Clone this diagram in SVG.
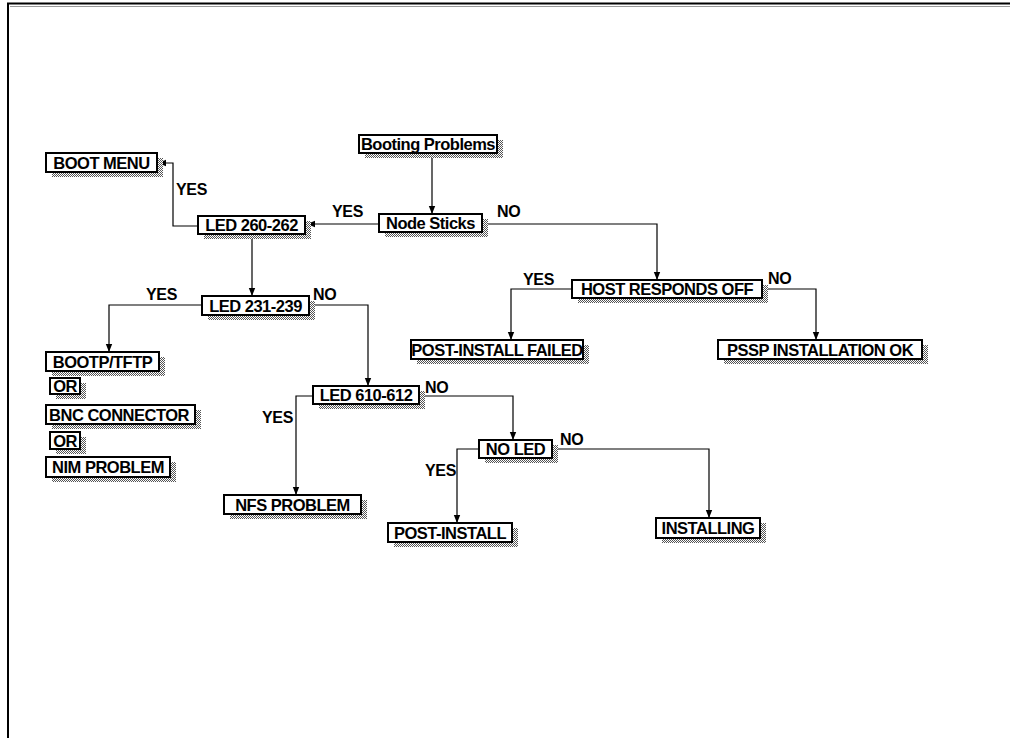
<svg xmlns="http://www.w3.org/2000/svg" width="1010" height="738" viewBox="0 0 1010 738">
  <style>
    .box { fill: #fff; stroke: #000; stroke-width: 2; }
    .sh { fill: url(#dots); }
    .t { font-family: "Liberation Sans", Arial, sans-serif; font-weight: bold; font-size: 16.5px; letter-spacing: -0.5px; fill: #000; text-anchor: middle; }
    .lbl { font-family: "Liberation Sans", Arial, sans-serif; font-weight: bold; font-size: 16px; letter-spacing: -0.3px; fill: #000; }
    .c { fill: none; stroke: #000; stroke-width: 1.2; }
  </style>
  <defs>
    <pattern id="dots" width="2" height="2" patternUnits="userSpaceOnUse">
      <rect width="2" height="2" fill="#fff"/>
      <rect x="0" y="0" width="1" height="1" fill="#555"/>
      <rect x="1" y="1" width="1" height="1" fill="#555"/>
    </pattern>
    <marker id="arr" markerWidth="8" markerHeight="8" refX="8" refY="4" orient="auto" markerUnits="userSpaceOnUse">
      <path d="M0,0.8 L8,4 L0,7.2 z" fill="#000"/>
    </marker>
  </defs>

  <!-- page frame -->
  <g id="frame">
    <line x1="7" y1="3.5" x2="1010" y2="3.5" stroke="#000" stroke-width="2"/>
    <line x1="10" y1="6.5" x2="1010" y2="6.5" stroke="#999" stroke-width="1"/>
    <line x1="8" y1="3" x2="8" y2="738" stroke="#000" stroke-width="2"/>
  </g>

  <!-- connectors -->
  <g id="connectors">
    <path class="c" d="M432,153 V214" marker-end="url(#arr)"/>
    <path class="c" d="M379,224 H307" marker-end="url(#arr)"/>
    <path class="c" d="M482,224 H657 V280" marker-end="url(#arr)"/>
    <path class="c" d="M198,226 H173 V163 H158" marker-end="url(#arr)"/>
    <path class="c" d="M252,234 V296" marker-end="url(#arr)"/>
    <path class="c" d="M202,305 H109 V352" marker-end="url(#arr)"/>
    <path class="c" d="M309,305 H368 V386" marker-end="url(#arr)"/>
    <path class="c" d="M572,289 H511 V340" marker-end="url(#arr)"/>
    <path class="c" d="M762,289 H816 V340" marker-end="url(#arr)"/>
    <path class="c" d="M313,396 H296 V495" marker-end="url(#arr)"/>
    <path class="c" d="M419,396 H513 V440" marker-end="url(#arr)"/>
    <path class="c" d="M479,449 H457 V523" marker-end="url(#arr)"/>
    <path class="c" d="M552,449 H709 V518" marker-end="url(#arr)"/>

    <text class="lbl" x="332" y="217">YES</text>
    <text class="lbl" x="497" y="217">NO</text>
    <text class="lbl" x="176" y="195">YES</text>
    <text class="lbl" x="146" y="300">YES</text>
    <text class="lbl" x="313" y="300">NO</text>
    <text class="lbl" x="523" y="285">YES</text>
    <text class="lbl" x="768" y="284">NO</text>
    <text class="lbl" x="262" y="423">YES</text>
    <text class="lbl" x="425" y="393">NO</text>
    <text class="lbl" x="425" y="476">YES</text>
    <text class="lbl" x="560" y="445">NO</text>
  </g>

  <!-- nodes: shadow, box, label -->
  <g id="booting-problems">
    <rect class="sh" x="365" y="140" width="138" height="18"/>
    <rect class="box" x="359" y="135" width="138" height="18"/>
    <text class="t" x="428" y="150">Booting Problems</text>
  </g>
  <g id="node-sticks">
    <rect class="sh" x="385" y="219" width="103" height="18"/>
    <rect class="box" x="379" y="214" width="103" height="18"/>
    <text class="t" x="430.5" y="229">Node Sticks</text>
  </g>
  <g id="led-260-262">
    <rect class="sh" x="204" y="221" width="107" height="18"/>
    <rect class="box" x="198" y="216" width="107" height="18"/>
    <text class="t" x="251.5" y="231">LED 260-262</text>
  </g>
  <g id="boot-menu">
    <rect class="sh" x="52" y="158" width="111" height="19"/>
    <rect class="box" x="46" y="153" width="111" height="19"/>
    <text class="t" x="101.5" y="168.5">BOOT MENU</text>
  </g>
  <g id="led-231-239">
    <rect class="sh" x="208" y="301" width="107" height="19"/>
    <rect class="box" x="202" y="296" width="107" height="19"/>
    <text class="t" x="255.5" y="311.5">LED 231-239</text>
  </g>
  <g id="host-responds-off">
    <rect class="sh" x="578" y="285" width="190" height="18"/>
    <rect class="box" x="572" y="280" width="190" height="18"/>
    <text class="t" x="667" y="295">HOST RESPONDS OFF</text>
  </g>
  <g id="post-install-failed">
    <rect class="sh" x="417" y="345" width="172" height="19"/>
    <rect class="box" x="411" y="340" width="172" height="19"/>
    <text class="t" x="497" y="355.5">POST-INSTALL FAILED</text>
  </g>
  <g id="pssp-installation-ok">
    <rect class="sh" x="724" y="345" width="204" height="19"/>
    <rect class="box" x="718" y="340" width="204" height="19"/>
    <text class="t" x="820" y="355.5">PSSP INSTALLATION OK</text>
  </g>
  <g id="bootp-tftp">
    <rect class="sh" x="52" y="357" width="113" height="19"/>
    <rect class="box" x="46" y="352" width="113" height="19"/>
    <text class="t" x="102.5" y="367.5">BOOTP/TFTP</text>
  </g>
  <g id="or-1">
    <rect class="sh" x="56" y="383" width="30" height="16"/>
    <rect class="box" x="50" y="378" width="30" height="16"/>
    <text class="t" x="65" y="392">OR</text>
  </g>
  <g id="bnc-connector">
    <rect class="sh" x="52" y="410" width="149" height="19"/>
    <rect class="box" x="46" y="405" width="149" height="19"/>
    <text class="t" x="119" y="420.5">BNC CONNECTOR</text>
  </g>
  <g id="or-2">
    <rect class="sh" x="56" y="437" width="30" height="17"/>
    <rect class="box" x="50" y="432" width="30" height="17"/>
    <text class="t" x="65" y="446.5">OR</text>
  </g>
  <g id="nim-problem">
    <rect class="sh" x="52" y="462" width="124" height="20"/>
    <rect class="box" x="46" y="457" width="124" height="20"/>
    <text class="t" x="108" y="473">NIM PROBLEM</text>
  </g>
  <g id="led-610-612">
    <rect class="sh" x="319" y="391" width="106" height="18"/>
    <rect class="box" x="313" y="386" width="106" height="18"/>
    <text class="t" x="366" y="401">LED 610-612</text>
  </g>
  <g id="no-led">
    <rect class="sh" x="485" y="445" width="73" height="18"/>
    <rect class="box" x="479" y="440" width="73" height="18"/>
    <text class="t" x="515.5" y="455">NO LED</text>
  </g>
  <g id="nfs-problem">
    <rect class="sh" x="230" y="500" width="137" height="19"/>
    <rect class="box" x="224" y="495" width="137" height="19"/>
    <text class="t" x="292.5" y="510.5">NFS PROBLEM</text>
  </g>
  <g id="post-install">
    <rect class="sh" x="394" y="528" width="124" height="19"/>
    <rect class="box" x="388" y="523" width="124" height="19"/>
    <text class="t" x="450" y="538.5">POST-INSTALL</text>
  </g>
  <g id="installing">
    <rect class="sh" x="662" y="523" width="104" height="20"/>
    <rect class="box" x="656" y="518" width="104" height="20"/>
    <text class="t" x="708" y="534">INSTALLING</text>
  </g>
</svg>
